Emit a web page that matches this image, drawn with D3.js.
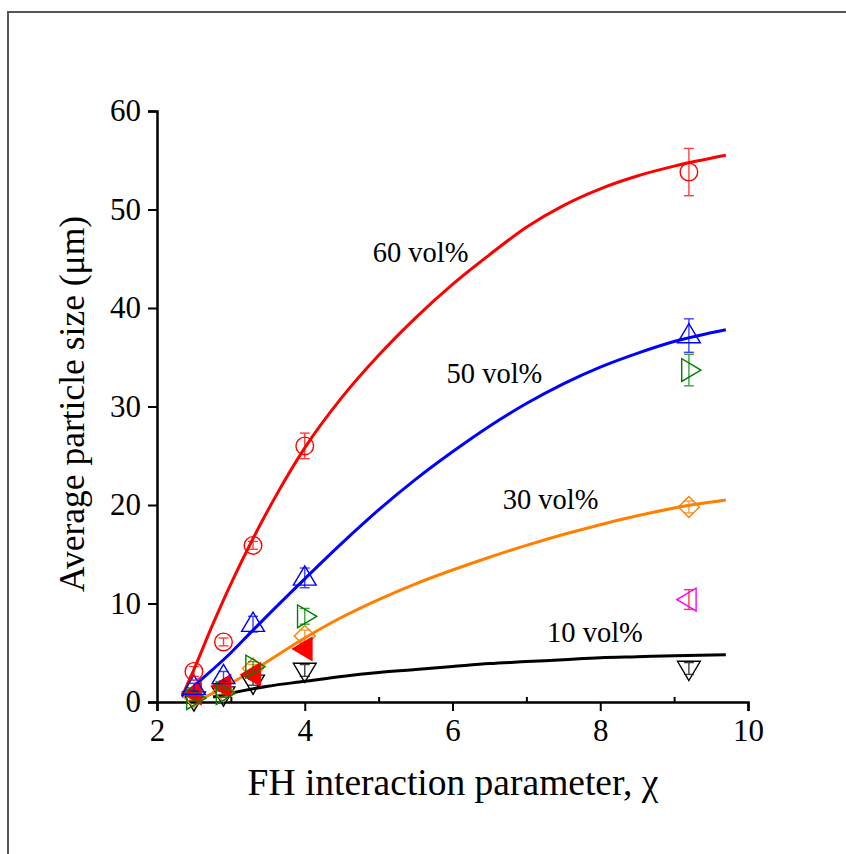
<!DOCTYPE html>
<html>
<head>
<meta charset="utf-8">
<script src="https://cdn.jsdelivr.net/npm/d3@7"></script>
<style>
  body { margin: 0; background: #fff; }
  svg text { font-family: "Liberation Serif", "Times New Roman", serif; fill: #000; }
</style>
</head>
<body>
<div id="chart"></div>
<script>
// measurement x positions (FH parameter)
var chiValues = [2.5, 2.9, 3.3, 4.0, 9.2];

// average particle size per loading, with error bars
var size60 = [3.1, 6.1, 15.9, 26.0, 53.8];
var err60 = [0.5, 0.4, 0.4, 1.3, 2.4];
var size50 = [1.5, 2.6, 7.9, 12.6, 37.2];
var err50 = [0.4, 0.5, 0.8, 1.0, 1.7];
var size40 = [0.4, 0.9, 3.6, 8.7, 33.7];
var err40 = [0.3, 0.4, 0.5, 0.8, 1.6];
var size30 = [0.5, 1.1, 3.4, 6.7, 19.8];
var err30 = [0.3, 0.3, 0.4, 0.6, 0.6];
var size20 = [0.9, 1.6, 2.8, 5.4];
var err20 = [0.2, 0.3, 0.4, 0.5];
var size20last = [10.4];
var err20last = [1.0];
var size10 = [0.3, 0.8, 2.0, 3.2, 3.4];
var err10 = [0.2, 0.3, 0.3, 0.6, 0.6];

// fitted curves
var fit60X = [2.34, 2.5, 2.75, 3.0, 3.3, 3.6, 4.0, 4.5, 5.0, 5.5, 6.0, 6.5, 7.0, 7.5, 8.0, 8.5, 9.0, 9.7];
var fit60Y = [0.6, 3.3, 7.8, 12.0, 16.6, 20.8, 25.8, 30.9, 35.2, 39.0, 42.4, 45.4, 48.2, 50.4, 52.1, 53.4, 54.4, 55.5];
var fit50X = [2.34, 2.5, 3.0, 3.3, 4.0, 4.5, 5.0, 5.5, 6.0, 6.5, 7.0, 7.5, 8.0, 8.5, 9.0, 9.7];
var fit50Y = [0.5, 1.6, 5.0, 7.3, 12.5, 16.1, 19.5, 22.6, 25.4, 28.0, 30.3, 32.3, 34.0, 35.4, 36.6, 37.8];
var fit30X = [2.58, 3.0, 3.3, 4.0, 4.5, 5.0, 5.5, 6.0, 6.5, 7.0, 7.5, 8.0, 8.5, 9.0, 9.7];
var fit30Y = [0.2, 1.9, 3.2, 6.5, 8.6, 10.4, 12.0, 13.4, 14.7, 15.9, 17.0, 18.0, 18.9, 19.7, 20.5];
var fit10X = [2.76, 3.0, 3.5, 4.0, 4.5, 5.0, 5.5, 6.0, 6.5, 7.0, 7.5, 8.0, 8.5, 9.0, 9.7];
var fit10Y = [0.5, 0.9, 1.6, 2.1, 2.6, 3.0, 3.3, 3.6, 3.9, 4.1, 4.3, 4.5, 4.6, 4.7, 4.8];

var xTicks = [2, 4, 6, 8, 10];
var xMinorTicks = [3, 5, 7, 9];
var yTicks = [0, 10, 20, 30, 40, 50, 60];

var W = 846, H = 854;
var svg = d3.select("#chart").append("svg").attr("width", W).attr("height", H);

// frame of the original figure
svg.append("path").attr("d", "M8," + H + "V12H" + W)
  .attr("fill", "none").attr("stroke", "#555").attr("stroke-width", 2);

var x = d3.scaleLinear().domain([2, 10]).range([157, 748]);
var y = d3.scaleLinear().domain([0, 60]).range([702, 111]);

// axes
var xAxis = svg.append("g").attr("transform", "translate(0," + y(0) + ")")
  .call(d3.axisBottom(x).tickValues(xTicks).tickSize(9).tickPadding(8).tickFormat(d3.format("d")));
svg.append("g").attr("transform", "translate(0," + y(0) + ")")
  .call(d3.axisTop(x).tickValues(xMinorTicks).tickSize(5).tickFormat(""))
  .call(function (g) { g.select(".domain").remove(); });
var yAxis = svg.append("g").attr("transform", "translate(" + x(2) + ",0)")
  .call(d3.axisLeft(y).tickValues(yTicks).tickSize(9).tickPadding(7));
[xAxis, yAxis].forEach(function (g) {
  g.selectAll(".domain").attr("stroke-width", 2.5);
});
svg.selectAll(".tick line").attr("stroke-width", 2);
svg.selectAll(".tick text").style("font-size", "31px").style("font-family", "Liberation Serif");
svg.selectAll(".domain").attr("stroke", "#000");

svg.append("text").attr("x", 453).attr("y", 795).attr("text-anchor", "middle")
  .style("font-size", "37.5px").text("FH interaction parameter, \u03c7");
svg.append("text").attr("transform", "translate(84,404) rotate(-90)").attr("text-anchor", "middle")
  .style("font-size", "35.5px").text("Average particle size (\u03bcm)");

// fitted lines
var line = d3.line().x(function (d) { return x(d[0]); }).y(function (d) { return y(d[1]); })
  .curve(d3.curveMonotoneX);
function drawFit(xs, ys, color) {
  svg.append("path").datum(d3.zip(xs, ys)).attr("d", line)
    .attr("fill", "none").attr("stroke", color).attr("stroke-width", 3);
}
drawFit(fit60X, fit60Y, "#ff0000");
drawFit(fit50X, fit50Y, "#0000ff");
drawFit(fit30X, fit30Y, "#ff8000");
drawFit(fit10X, fit10Y, "#000000");

// marker symbols
var tri = function (r) { return [[0, -r], [r * 0.95, r * 0.6], [-r * 0.95, r * 0.6]]; };
var shapes = {
  circle: function (g) { g.append("circle").attr("r", 8.8); },
  up: function (g) { g.append("polygon").attr("points", tri(12).join(" ")); },
  down: function (g) { g.append("polygon").attr("points", tri(12).map(function (p) { return [p[0], -p[1]]; }).join(" ")); },
  right: function (g) { g.append("polygon").attr("points", tri(12).map(function (p) { return [-p[1], p[0]]; }).join(" ")); },
  left: function (g) { g.append("polygon").attr("points", tri(12).map(function (p) { return [p[1], p[0]]; }).join(" ")); },
  diamond: function (g) { g.append("polygon").attr("points", "0,-10.5 10.5,0 0,10.5 -10.5,0"); }
};

function drawSeries(xs, ys, errs, shape, color, fill, errColor) {
  var data = d3.zip(xs, ys, errs);
  var g = svg.append("g");
  var eb = g.selectAll("g.eb").data(data).enter().append("g")
    .attr("stroke", errColor || color).attr("stroke-width", 1.4).attr("opacity", 0.75);
  eb.append("line").attr("x1", function (d) { return x(d[0]); }).attr("x2", function (d) { return x(d[0]); })
    .attr("y1", function (d) { return y(d[1] - d[2]); }).attr("y2", function (d) { return y(d[1] + d[2]); });
  [-1, 1].forEach(function (s) {
    eb.append("line").attr("x1", function (d) { return x(d[0]) - 5; }).attr("x2", function (d) { return x(d[0]) + 5; })
      .attr("y1", function (d) { return y(d[1] + s * d[2]); }).attr("y2", function (d) { return y(d[1] + s * d[2]); });
  });
  g.selectAll("g.mk").data(data).enter().append("g")
    .attr("transform", function (d) { return "translate(" + x(d[0]) + "," + y(d[1]) + ")"; })
    .attr("fill", fill).attr("stroke", color).attr("stroke-width", 1.4)
    .each(function () { shapes[shape](d3.select(this)); });
}

drawSeries(chiValues, size10, err10, "down", "#000000", "none");
drawSeries(chiValues, size30, err30, "diamond", "#ff8000", "none");
drawSeries(chiValues.slice(0, 4), size20, err20, "left", "#ff0000", "#ff0000");
drawSeries(chiValues.slice(4), size20last, err20last, "left", "#ff00ff", "none", "#ff0000");
drawSeries(chiValues, size40, err40, "right", "#008000", "none");
drawSeries(chiValues, size50, err50, "up", "#0000ff", "none");
drawSeries(chiValues, size60, err60, "circle", "#ff0000", "none");

// curve labels
var labelText = ["60 vol%", "50 vol%", "30 vol%", "10 vol%"];
var labelX = [4.92, 5.92, 6.68, 7.28];
var labelY = [44.7, 32.4, 19.6, 6.1];
svg.selectAll("text.lab").data(labelText).enter().append("text")
  .attr("x", function (d, i) { return x(labelX[i]); })
  .attr("y", function (d, i) { return y(labelY[i]); })
  .style("font-size", "28.5px").text(function (d) { return d; });
</script>
</body>
</html>
